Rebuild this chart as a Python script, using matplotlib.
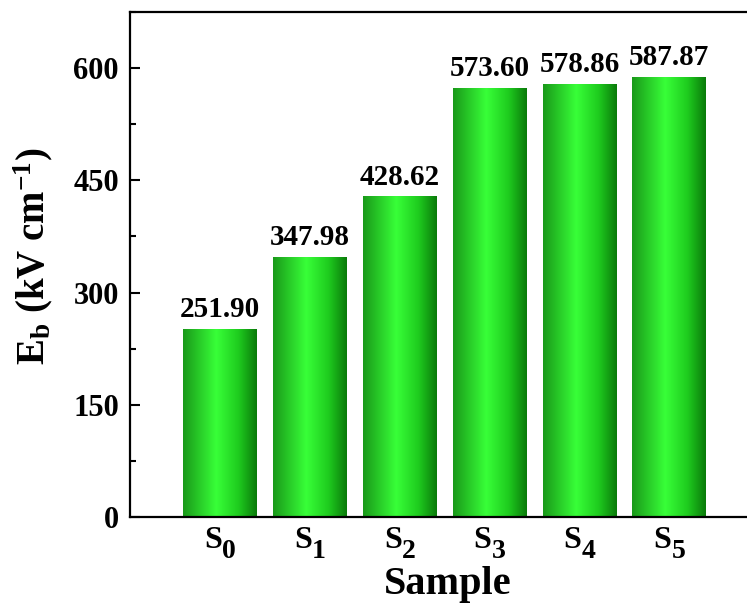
import numpy as np
import matplotlib
matplotlib.use('Agg')
import matplotlib.pyplot as plt
from matplotlib.colors import LinearSegmentedColormap
from matplotlib.ticker import MultipleLocator

sample_subs = ['0', '1', '2', '3', '4', '5']
eb = [251.90, 347.98, 428.62, 573.60, 578.86, 587.87]

plt.rcParams['font.family'] = ['Liberation Serif', 'DejaVu Serif']
plt.rcParams['font.weight'] = 'bold'
plt.rcParams['mathtext.fontset'] = 'custom'
plt.rcParams['mathtext.rm'] = 'Liberation Serif:bold'
plt.rcParams['mathtext.bf'] = 'Liberation Serif:bold'
plt.rcParams['mathtext.it'] = 'Liberation Serif:bold'

fig = plt.figure(figsize=(7.47, 6.08), dpi=100)
ax = fig.add_axes([130 / 747, 91 / 608, 622 / 747, 505 / 608])

# gradient for cylinder-like bars
cmap = LinearSegmentedColormap.from_list('bar', [
    (0.0, (0.10, 0.60, 0.10)),
    (0.45, (0.22, 1.00, 0.22)),
    (0.75, (0.12, 0.80, 0.12)),
    (1.0, (0.04, 0.48, 0.04)),
])
grad = np.linspace(0, 1, 256).reshape(1, -1)

x = np.arange(len(sample_subs))
w = 0.82
bars = ax.bar(x, eb, width=w, color='none', edgecolor='none')
for b, v in zip(bars, eb):
    x0 = b.get_x()
    im = ax.imshow(grad, cmap=cmap, aspect='auto',
                   extent=[x0, x0 + w, 0, v], zorder=2)
    im.set_clip_path(b)
    ax.annotate(f'{v:.2f}', (x0 + w / 2, v), xytext=(0, 8.5),
                textcoords='offset points', ha='center', va='baseline',
                fontsize=21, fontweight='bold')

ax.set_xlim(-1.0, 5.92)
ax.set_ylim(0, 675)
ax.yaxis.set_major_locator(MultipleLocator(150))
ax.yaxis.set_minor_locator(MultipleLocator(75))
ax.set_xticks(x)
ax.set_xticklabels([])
ax.tick_params(axis='y', which='major', direction='in', length=7, width=1.5,
               labelsize=22, pad=8)
ax.tick_params(axis='y', which='minor', direction='in', length=4, width=1.5)
ax.tick_params(axis='x', length=0)
for sp in ax.spines.values():
    sp.set_linewidth(1.6)

# x tick labels S with large subscript
for xi, s in zip(x, sample_subs):
    ax.annotate('S', (xi, 0), xycoords=('data', 'axes fraction'),
                xytext=(1.5, -22.5), textcoords='offset points',
                ha='right', va='baseline', fontsize=23, fontweight='bold')
    ax.annotate(s, (xi, 0), xycoords=('data', 'axes fraction'),
                xytext=(1.5, -29.5), textcoords='offset points',
                ha='left', va='baseline', fontsize=20, fontweight='bold')

ax.set_ylabel(r'$\mathbf{E_b}$ (kV cm$^{\mathbf{-1}}$)', fontsize=28,
              fontweight='bold')
ax.yaxis.set_label_coords(-0.121, 0.517)
ax.set_xlabel('Sample', fontsize=29, fontweight='bold')
ax.xaxis.set_label_coords(0.510, -0.097)

fig.savefig('out.png', dpi=100)
